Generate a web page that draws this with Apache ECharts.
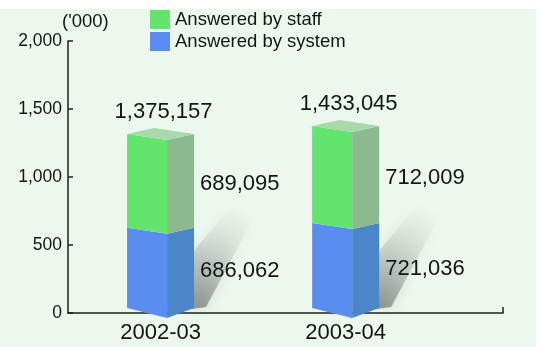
<!DOCTYPE html>
<html>
<head>
<meta charset="utf-8">
<script src="https://cdn.jsdelivr.net/npm/echarts@6/dist/echarts.min.js"></script>
<style>
html,body{margin:0;padding:0;background:#ffffff;}
#chart{width:541px;height:347px;}
</style>
</head>
<body>
<div id="chart"></div>
<script>
// ---- data ----
const categories = ['2002-03', '2003-04'];
const seriesNames = ['Answered by staff', 'Answered by system'];
const answeredByStaff = [689095, 712009];
const answeredBySystem = [686062, 721036];
const yTicks = [0, 500, 1000, 1500, 2000]; // in '000
const unitLabel = "('000)";

const totals = categories.map((_, i) => answeredByStaff[i] + answeredBySystem[i]);
const fmt = n => n.toLocaleString('en-US');

const FONT = "'Liberation Sans', Arial, Helvetica, sans-serif";
const TEXT = '#141414';
const colors = {
  staffFront: '#63e46d', staffSide: '#8db98f', staffTop: '#a9d9aa',
  sysFront: '#5b8df0', sysSide: '#4b86c9'
};

const systemData = categories.map((_, i) => [i + 0.5, 0, answeredBySystem[i] / 1000]);
const staffData = categories.map((_, i) => [i + 0.5, answeredBySystem[i] / 1000, totals[i] / 1000]);

function makeRender(kind) {
  return function (params, api) {
    const x = api.value(0), v0 = api.value(1), v1 = api.value(2);
    const idx = params.dataIndex;
    const c = api.coord([x, 0])[0];
    const py = v => api.coord([x, v])[1];
    const yb = py(0);
    const xl = c - 33.5, xm = c + 6.5, xr = c + 33.5, xk = c - 6.5;
    const tL = py(v1) + 8, tM = py(v1) + 14, tR = py(v1) + 8, tK = py(v1) + 2;
    let bL, bM, bR;
    if (v0 === 0) { bL = yb - 5; bM = yb + 5; bR = yb - 5; }
    else { bL = py(v0) + 8; bM = py(v0) + 14; bR = py(v0) + 8; }
    const front = kind === 'staff' ? colors.staffFront : colors.sysFront;
    const side = kind === 'staff' ? colors.staffSide : colors.sysSide;
    const children = [];
    if (kind === 'system') {
      children.push({
        type: 'polygon', z2: 0,
        shape: { points: [[xr - 2, yb - 4], [xr + 12, yb - 6], [xr + 62, yb - 100], [xr + 38, yb - 108], [xr - 2, yb - 60]] },
        style: {
          fill: new echarts.graphic.LinearGradient(xr + 3, yb - 8, xr + 55, yb - 105, [
            { offset: 0, color: 'rgba(80,88,84,0.55)' },
            { offset: 0.5, color: 'rgba(130,140,135,0.25)' },
            { offset: 1, color: 'rgba(210,220,215,0)' }
          ], true),
          shadowBlur: 14, shadowColor: 'rgba(110,120,115,0.45)'
        }
      });
    }
    children.push({
      type: 'polygon', z2: 2,
      shape: { points: [[xl, tL], [xm, tM], [xm, bM], [xl, bL]] },
      style: { fill: front }
    });
    children.push({
      type: 'polygon', z2: 2,
      shape: { points: [[xm, tM], [xr, tR], [xr, bR], [xm, bM]] },
      style: { fill: side }
    });
    const val = kind === 'staff' ? answeredByStaff[idx] : answeredBySystem[idx];
    children.push({
      type: 'text', z2: 5,
      style: {
        text: fmt(val), x: xr + 6, y: (tR + bR) / 2 + 3,
        font: '22px ' + FONT, fill: TEXT, align: 'left', verticalAlign: 'middle'
      }
    });
    if (kind === 'staff') {
      children.push({
        type: 'polygon', z2: 3,
        shape: { points: [[xl, tL], [xk, tK], [xr, tR], [xm, tM]] },
        style: { fill: colors.staffTop }
      });
      children.push({
        type: 'text', z2: 5,
        style: {
          text: fmt(totals[idx]), x: c + 3, y: tK - 16,
          font: '22px ' + FONT, fill: TEXT, align: 'center', verticalAlign: 'middle'
        }
      });
    }
    return { type: 'group', children: children };
  };
}

const chart = echarts.init(document.getElementById('chart'), null, { renderer: 'canvas' });
chart.setOption({
  backgroundColor: '#ffffff',
  animation: false,
  graphic: [{
    type: 'rect', z: -100, silent: true,
    shape: { x: 0, y: 9, width: 536, height: 338 },
    style: { fill: '#ecf8ee' }
  }],
  title: {
    text: unitLabel, left: 62, top: 12, padding: 0,
    textStyle: { fontFamily: FONT, fontSize: 18.5, fontWeight: 'normal', color: TEXT }
  },
  legend: {
    orient: 'vertical', left: 150, top: 10, padding: 0,
    itemWidth: 20, itemHeight: 19, itemGap: 3,
    icon: 'rect',
    data: [
      { name: seriesNames[0], itemStyle: { color: colors.staffFront } },
      { name: seriesNames[1], itemStyle: { color: colors.sysFront } }
    ],
    textStyle: { fontFamily: FONT, fontSize: 18.5, color: TEXT, padding: [0, 0, 0, 0] }
  },
  grid: { left: 68, top: 41, right: 38, bottom: 34, containLabel: false },
  xAxis: {
    type: 'value', min: 0, max: 2.35,
    splitLine: { show: false },
    axisLine: { show: true, lineStyle: { color: '#1f1f1f', width: 1.5 } },
    axisTick: { show: true, inside: true, length: 6, customValues: [2.35], lineStyle: { color: '#1f1f1f', width: 1.5 } },
    axisLabel: {
      customValues: [0.5, 1.5], margin: 9,
      formatter: v => categories[Math.round(v - 0.5)] || '',
      fontFamily: FONT, fontSize: 22, color: TEXT
    }
  },
  yAxis: {
    type: 'value', min: yTicks[0], max: yTicks[yTicks.length - 1], interval: yTicks[1] - yTicks[0],
    splitLine: { show: false },
    axisLine: { show: true, lineStyle: { color: '#1f1f1f', width: 1.5 } },
    axisTick: { show: true, inside: true, length: 5, lineStyle: { color: '#1f1f1f', width: 1.5 } },
    axisLabel: {
      margin: 6, fontFamily: FONT, fontSize: 17.5, color: TEXT,
      formatter: v => fmt(v)
    }
  },
  series: [
    {
      name: seriesNames[1], type: 'custom', renderItem: makeRender('system'),
      itemStyle: { color: colors.sysFront },
      encode: { x: 0, y: [1, 2] }, data: systemData, z: 2
    },
    {
      name: seriesNames[0], type: 'custom', renderItem: makeRender('staff'),
      itemStyle: { color: colors.staffFront },
      encode: { x: 0, y: [1, 2] }, data: staffData, z: 3
    }
  ]
});
</script>
</body>
</html>
